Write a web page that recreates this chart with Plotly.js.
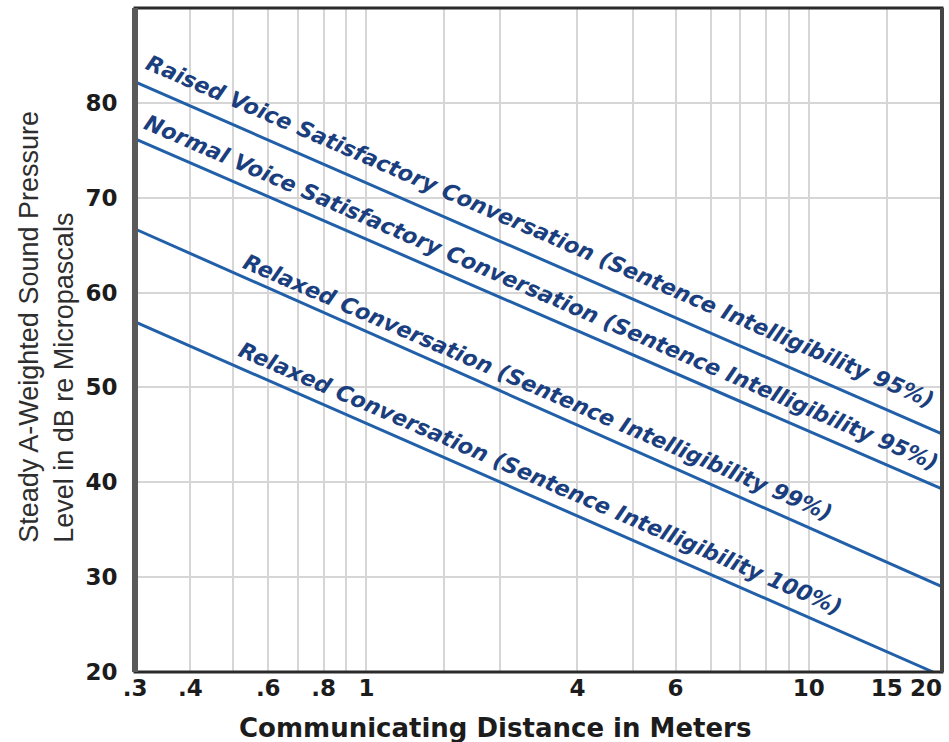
<!DOCTYPE html>
<html><head><meta charset="utf-8">
<script src="https://cdn.plot.ly/plotly-3.0.1.min.js"></script>
<style>html,body{margin:0;padding:0;background:#fff;overflow:hidden}#chart{width:949px;height:742px}</style>
</head><body><div id="chart"></div>
<script>
// Data
const distance = [0.3, 20];
const raisedVoice95 = [82.2, 45.1];
const normalVoice95 = [76.2, 39.3];
const relaxed99 = [66.7, 29.0];
const relaxed100Distance = [0.3, 19.1];
const relaxed100 = [56.9, 20.0];

const seriesNames = [
  'Raised Voice Satisfactory Conversation (Sentence Intelligibility 95%)',
  'Normal Voice Satisfactory Conversation (Sentence Intelligibility 95%)',
  'Relaxed Conversation (Sentence Intelligibility 99%)',
  'Relaxed Conversation (Sentence Intelligibility 100%)'
];

const xTickVals = [0.3, 0.4, 0.6, 0.8, 1, 3, 5, 10, 15];
const xTickText = ['.3', '.4', '.6', '.8', '1', '4', '6', '10', '15'];
const xEndTickVals = [20];
const xEndTickText = ['20'];
const xGridVals = [0.4, 0.5, 0.6, 0.7, 0.8, 0.9, 1, 1.5, 2, 3, 4, 5, 6, 7, 8, 9, 10, 15];
const yTickVals = [20, 30, 40, 50, 60, 70, 80];
const yTickText = ['20', '30', '40', '50', '60', '70', '80'];

const lineColor = '#2160a9';
const textColor = '#1b3f7e';

const mk = (x, y, name, xa) => ({
  x: x, y: y, name: name, type: 'scatter', mode: 'lines', xaxis: xa || 'x',
  line: {color: lineColor, width: 3}, hoverinfo: 'x+y+name'
});

const data = [
  mk(distance, raisedVoice95, seriesNames[0]),
  mk(distance, normalVoice95, seriesNames[1]),
  mk(distance, relaxed99, seriesNames[2]),
  mk(relaxed100Distance, relaxed100, seriesNames[3], 'x2')
];

const labelPos = [
  {x: 0.502, y: 0.663},
  {x: 0.503, y: 0.571},
  {x: 0.499, y: 0.428},
  {x: 0.502, y: 0.291}
];

const tickFont = {family: 'DejaVu Sans', size: 23, color: '#1c1c1c', weight: 'bold'};

const annotations = seriesNames.map((t, i) => ({
  text: t, xref: 'paper', yref: 'paper', x: labelPos[i].x, y: labelPos[i].y,
  xanchor: 'center', yanchor: 'middle', showarrow: false, textangle: 23.4,
  font: {family: 'DejaVu Sans', size: 22, color: textColor, weight: 'bold', style: 'italic'}
}));

annotations.push({
  text: 'Steady A-Weighted Sound Pressure<br>Level in dB re Micropascals',
  xref: 'paper', yref: 'paper', x: -0.109, y: 0.52, xanchor: 'center', yanchor: 'middle',
  showarrow: false, textangle: -90, align: 'left',
  font: {family: 'Liberation Sans', size: 27, color: '#2e2e2e'}
});
annotations.push({
  text: 'Communicating Distance in Meters',
  xref: 'paper', yref: 'paper', x: 0.446, y: -0.084, xanchor: 'center', yanchor: 'middle',
  showarrow: false,
  font: {family: 'DejaVu Sans', size: 26, color: '#1c1c1c', weight: 'bold'}
});

const xRange = [Math.log10(0.3) - 0.0002, Math.log10(20) + 0.0002];

const layout = {
  width: 949, height: 742,
  margin: {l: 135, r: 7, t: 8, b: 70},
  paper_bgcolor: '#ffffff', plot_bgcolor: '#ffffff',
  showlegend: false,
  xaxis: {
    type: 'log', range: xRange,
    tickmode: 'array', tickvals: xTickVals, ticktext: xTickText,
    showgrid: false, zeroline: false, showline: false,
    ticks: '', ticklabeloverflow: 'allow',
    tickfont: tickFont,
    minor: {tickmode: 'array', tickvals: xGridVals, showgrid: true, gridcolor: '#d6d6d6', gridwidth: 2, ticks: ''}
  },
  xaxis2: {
    type: 'log', range: xRange, matches: 'x', overlaying: 'x', anchor: 'y', side: 'bottom',
    tickmode: 'array', tickvals: xEndTickVals, ticktext: xEndTickText,
    ticklabelposition: 'outside left', ticklabeloverflow: 'allow',
    showgrid: false, zeroline: false, showline: false, ticks: '',
    tickfont: tickFont
  },
  yaxis: {
    range: [20, 90], tickmode: 'array', tickvals: yTickVals, ticktext: yTickText,
    showgrid: true, gridcolor: '#d6d6d6', gridwidth: 2, zeroline: false, showline: false,
    ticks: 'outside', ticklen: 12, tickcolor: 'rgba(0,0,0,0)',
    tickfont: tickFont
  },
  annotations: annotations,
  shapes: [
    {type: 'rect', xref: 'paper', yref: 'paper', x0: 0, x1: 1, y0: 0, y1: 1,
     line: {color: '#2a2a2a', width: 3}, layer: 'above'},
    {type: 'line', xref: 'paper', yref: 'paper', x0: 0, x1: 0, y0: 0, y1: 1,
     line: {color: '#5a5a5a', width: 6}, layer: 'above'},
    {type: 'line', xref: 'paper', yref: 'paper', x0: 1, x1: 1, y0: 0, y1: 1,
     line: {color: '#444444', width: 4}, layer: 'above'}
  ]
};

Plotly.newPlot('chart', data, layout, {displayModeBar: false, staticPlot: true});
</script>
</body></html>
